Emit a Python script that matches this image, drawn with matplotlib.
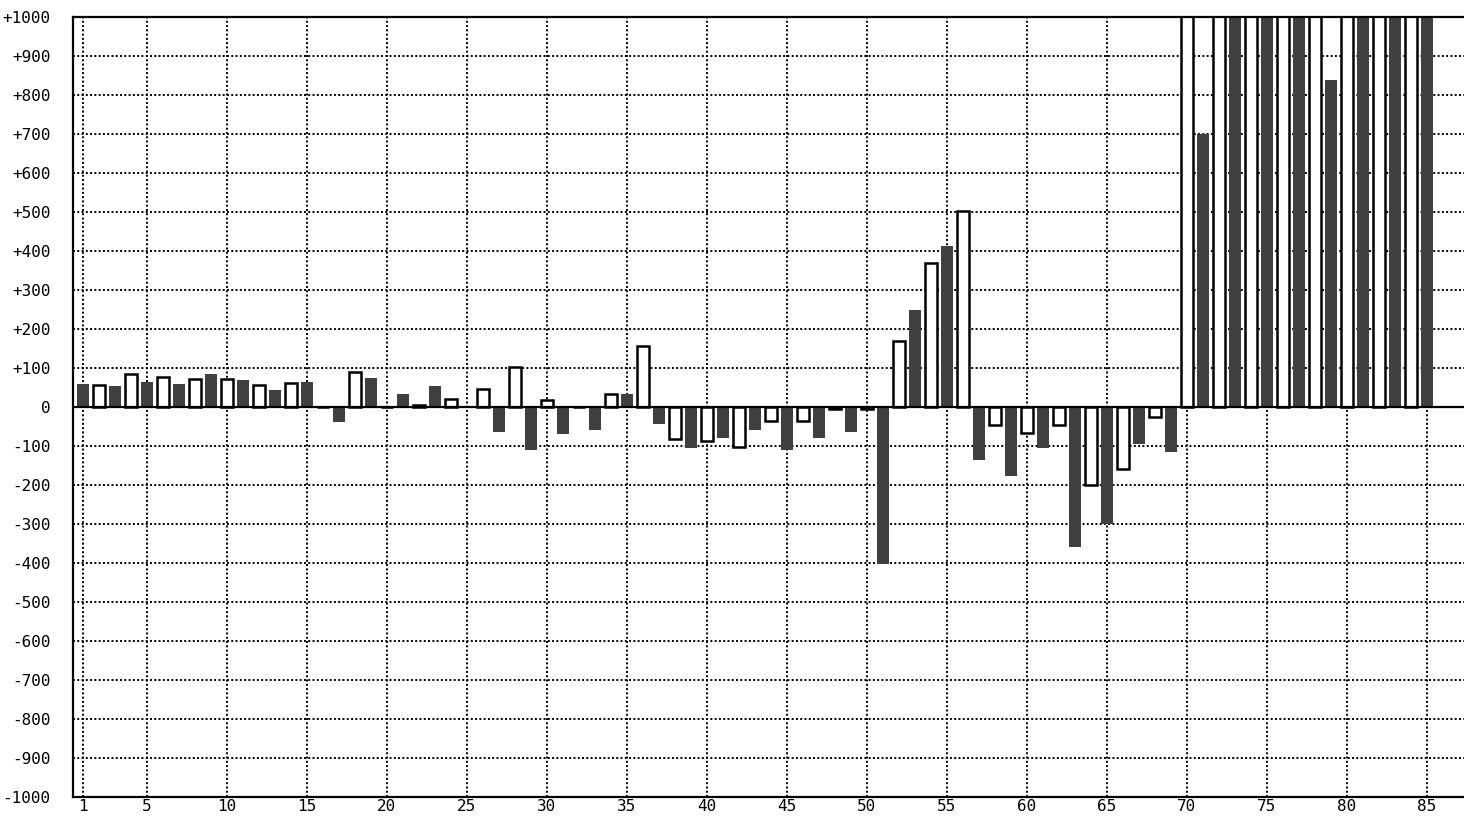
import numpy as np
import matplotlib
matplotlib.use("Agg")
import matplotlib.pyplot as plt

# dark bars sit on odd days, outlined white bars on even days
odd_days = list(range(1, 86, 2))
odd_vals = [58, 53, 63, 58, 84, 68, 43, 63,
            -38, 74, 33, 53, 0,
            -65, -111, -70, -60, 33,
            -44, -106, -79, -59, -110,
            -79, -64, -403, 248, 412,
            -136, -177, -105, -361, -300,
            -95, -115, 700, 1100, 1100,
            1100, 838, 1100, 1100, 1100]

even_days = list(range(2, 85, 2))
even_vals = [55, 83, 77, 72, 72,
             55, 62, 0, 88, 0,
             5, 21, 46, 103, 16,
             0, 32, 155, -83, -88,
             -103, -37, -37, -5, -5,
             169, 369, 503, -47, -67,
             -47, -201, -161, -26, 1100,
             1100, 1100, 1100, 1100, 1100, 1100, 1100]

x_ticks = [1] + list(range(5, 86, 5))
y_ticks = list(range(-1000, 1001, 100))

W, H = 1464, 816
fig = plt.figure(figsize=(W / 100, H / 100), dpi=100)
ax = fig.add_axes([73 / W, 19.3 / H, (W - 73) / W, 780 / H])

ax.bar(odd_days, odd_vals, width=0.75, color="#404040", linewidth=0, zorder=2)
ax.bar(even_days, even_vals, width=0.75, facecolor="white",
       edgecolor="black", linewidth=1.8, zorder=2)
ax.axhline(0, color="black", linewidth=1.6, zorder=3)

ax.set_xlim(0.375, 1 + (W - 82.7) / 16)
ax.set_ylim(-1000, 1000)

ax.set_xticks(x_ticks)
ax.set_xticklabels([str(v) for v in x_ticks])
ax.set_yticks(y_ticks)
ax.set_yticklabels([("+%d" % v) if v > 0 else str(v) for v in y_ticks])

ax.set_axisbelow(True)
ax.grid(True, color="black", linestyle=(0, (1, 1.2)), linewidth=1.4)

for lbl in ax.get_xticklabels() + ax.get_yticklabels():
    lbl.set_family("DejaVu Sans Mono")
    lbl.set_fontsize(11.5)
ax.tick_params(axis="both", length=0, colors="black")
ax.tick_params(axis="y", pad=16)
ax.tick_params(axis="x", pad=2)

ax.spines["right"].set_visible(False)
for s in ["left", "top", "bottom"]:
    ax.spines[s].set_linewidth(1.6)
    ax.spines[s].set_color("black")

fig.savefig("out.png", dpi=100, facecolor="white")
